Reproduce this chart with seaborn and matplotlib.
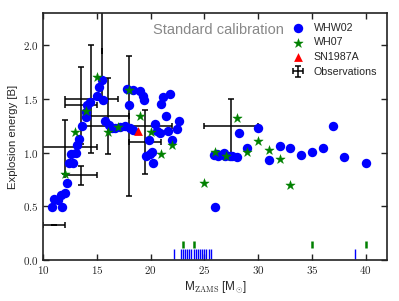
import numpy as np
import pandas as pd
import seaborn as sns
import matplotlib.pyplot as plt
from matplotlib.ticker import FuncFormatter

# WHW02 progenitors (ZAMS mass, explosion energy in B)
whw02_mass = [10.8, 11.0, 11.4, 11.7, 11.8, 12.05, 12.2, 12.4, 12.8, 12.6, 13.1, 13.2, 13.35,
              13.6, 14.0, 14.0, 14.1, 14.4, 15.0, 15.2, 15.5, 15.6, 15.8, 16.1, 16.4, 16.7,
              17.2, 17.6, 18.1, 18.4, 17.8, 18.4, 19.0, 19.25, 19.4, 18.0, 19.9, 20.4, 20.6,
              20.85, 21.0, 21.2, 21.8, 21.4, 21.6, 22.0, 22.45, 22.6, 20.1, 19.6, 19.97, 20.2,
              25.9, 26.2, 26.3, 26.8, 26.95, 27.4, 27.6, 28.0, 28.2, 29.0, 30.0, 31.0, 32.0,
              33.0, 34.0, 35.0, 36.0, 37.0, 38.0, 40.0, 26.0]
whw02_energy = [0.49, 0.57, 0.56, 0.61, 0.49, 0.62, 0.72, 0.90, 0.90, 0.99, 1.00, 1.07, 1.13,
                1.25, 1.33, 1.38, 1.44, 1.47, 1.53, 1.61, 1.68, 1.49, 1.29, 1.26, 1.23, 1.23,
                1.24, 1.25, 1.23, 1.21, 1.59, 1.58, 1.57, 1.53, 1.49, 1.44, 1.12, 1.27, 1.20,
                1.18, 1.45, 1.52, 1.55, 1.34, 1.20, 1.12, 1.22, 1.29, 1.01, 0.97, 0.99, 0.90,
                0.98, 0.99, 0.97, 1.00, 0.97, 0.97, 0.97, 0.96, 1.18, 1.04, 1.23, 0.93, 1.06,
                1.04, 0.98, 1.01, 1.04, 1.25, 0.96, 0.90, 0.49]

# WH07 progenitors
wh07_mass = [12, 13, 14, 15, 16, 17, 18, 19, 20, 21, 22, 25, 26, 27, 28, 29, 30, 31, 32, 33]
wh07_energy = [0.80, 1.19, 1.39, 1.70, 1.19, 1.24, 1.58, 1.34, 1.19, 0.99, 1.07, 0.72, 1.01,
               0.97, 1.32, 1.01, 1.11, 1.02, 0.94, 0.70]

# non-exploding models (rug marks)
whw02_failed = [22.2, 22.8, 23.0, 23.2, 23.4, 23.6, 23.8, 24.0, 24.2, 24.4, 24.6, 24.8,
                25.0, 25.2, 25.4, 25.6, 39.0]
wh07_failed = [23, 24, 35, 40]

# SN1987A calibration
sn87_mass = [18.8]
sn87_energy = [1.2]

# observations
obs_x = [11.0, 12.0, 13.5, 13.5, 14.5, 15.5, 16.0, 18.0, 19.5, 27.5]
obs_y = [0.33, 1.05, 0.79, 1.44, 1.50, 1.95, 1.34, 1.25, 1.10, 1.25]
obs_xlo = [1.0, 3.0, 1.5, 1.5, 2.5, 0.0, 2.0, 4.5, 1.5, 2.5]
obs_xhi = [1.0, 3.0, 1.5, 1.5, 2.5, 0.0, 2.0, 4.0, 1.5, 2.5]
obs_yerr = [0.0, 0.25, 0.09, 0.36, 0.50, 0.45, 0.35, 0.65, 0.30, 0.25]

sns.set_style('ticks')
plt.rcParams['font.family'] = ['Liberation Sans', 'DejaVu Sans']
plt.rcParams['mathtext.fontset'] = 'cm'

fig = plt.figure(figsize=(3.99, 3.01), dpi=100)
ax = fig.add_axes([0.108, 0.136, 0.862, 0.821])

ax.errorbar(obs_x, obs_y, xerr=[obs_xlo, obs_xhi], yerr=obs_yerr, fmt='none',
            ecolor='black', elinewidth=1.1, capsize=2, capthick=1.1, zorder=1,
            label='Observations')

d1 = pd.DataFrame({'m': whw02_mass, 'e': whw02_energy})
d2 = pd.DataFrame({'m': wh07_mass, 'e': wh07_energy})
d3 = pd.DataFrame({'m': sn87_mass, 'e': sn87_energy})
sns.scatterplot(data=d1, x='m', y='e', ax=ax, color='#0000ff', marker='o', s=46,
                linewidth=0, label='WHW02', zorder=2)
sns.scatterplot(data=d2, x='m', y='e', ax=ax, color='green', marker='*', s=50,
                linewidth=0.3, edgecolor='green', label='WH07', zorder=3)
sns.scatterplot(data=d3, x='m', y='e', ax=ax, color='red', marker='^', s=40,
                linewidth=0, label='SN1987A', zorder=4)

ax.vlines(whw02_failed, 0.01, 0.10, color='#0000ff', lw=1.0)
ax.vlines(wh07_failed, 0.115, 0.18, color='green', lw=1.8)

ax.set_xlim(10, 42)
ax.set_ylim(0, 2.3)
ax.set_xticks([10, 15, 20, 25, 30, 35, 40])
ax.set_yticks([0.0, 0.5, 1.0, 1.5, 2.0])
ax.xaxis.set_major_formatter(FuncFormatter(lambda v, p: f'${v:g}$'))
ax.yaxis.set_major_formatter(FuncFormatter(lambda v, p: f'${v:.1f}$'))
ax.tick_params(direction='in', top=True, right=True, length=4, width=1.0,
               labelsize=8, color='#222222', pad=3)
for sp in ax.spines.values():
    sp.set_linewidth(1.2)
    sp.set_color('#222222')

ax.set_xlabel(r'M$_{\mathrm{ZAMS}}$ [M$_{\odot}$]', fontsize=8.5, labelpad=2)
ax.set_ylabel('Explosion energy [B]', fontsize=8.2, labelpad=4)
ax.text(0.51, 0.932, 'Standard calibration', transform=ax.transAxes, ha='center',
        va='center', fontsize=10.5, color='#888888')

h, l = ax.get_legend_handles_labels()
order = ['WHW02', 'WH07', 'SN1987A', 'Observations']
hd = dict(zip(l, h))
ax.legend([hd[k] for k in order], order, loc='upper right', frameon=False, fontsize=7.7,
          labelspacing=0.45, handlelength=1.6, handletextpad=0.7,
          bbox_to_anchor=(1.0, 1.0), borderaxespad=0.5)

fig.savefig('out.png', dpi=100)
